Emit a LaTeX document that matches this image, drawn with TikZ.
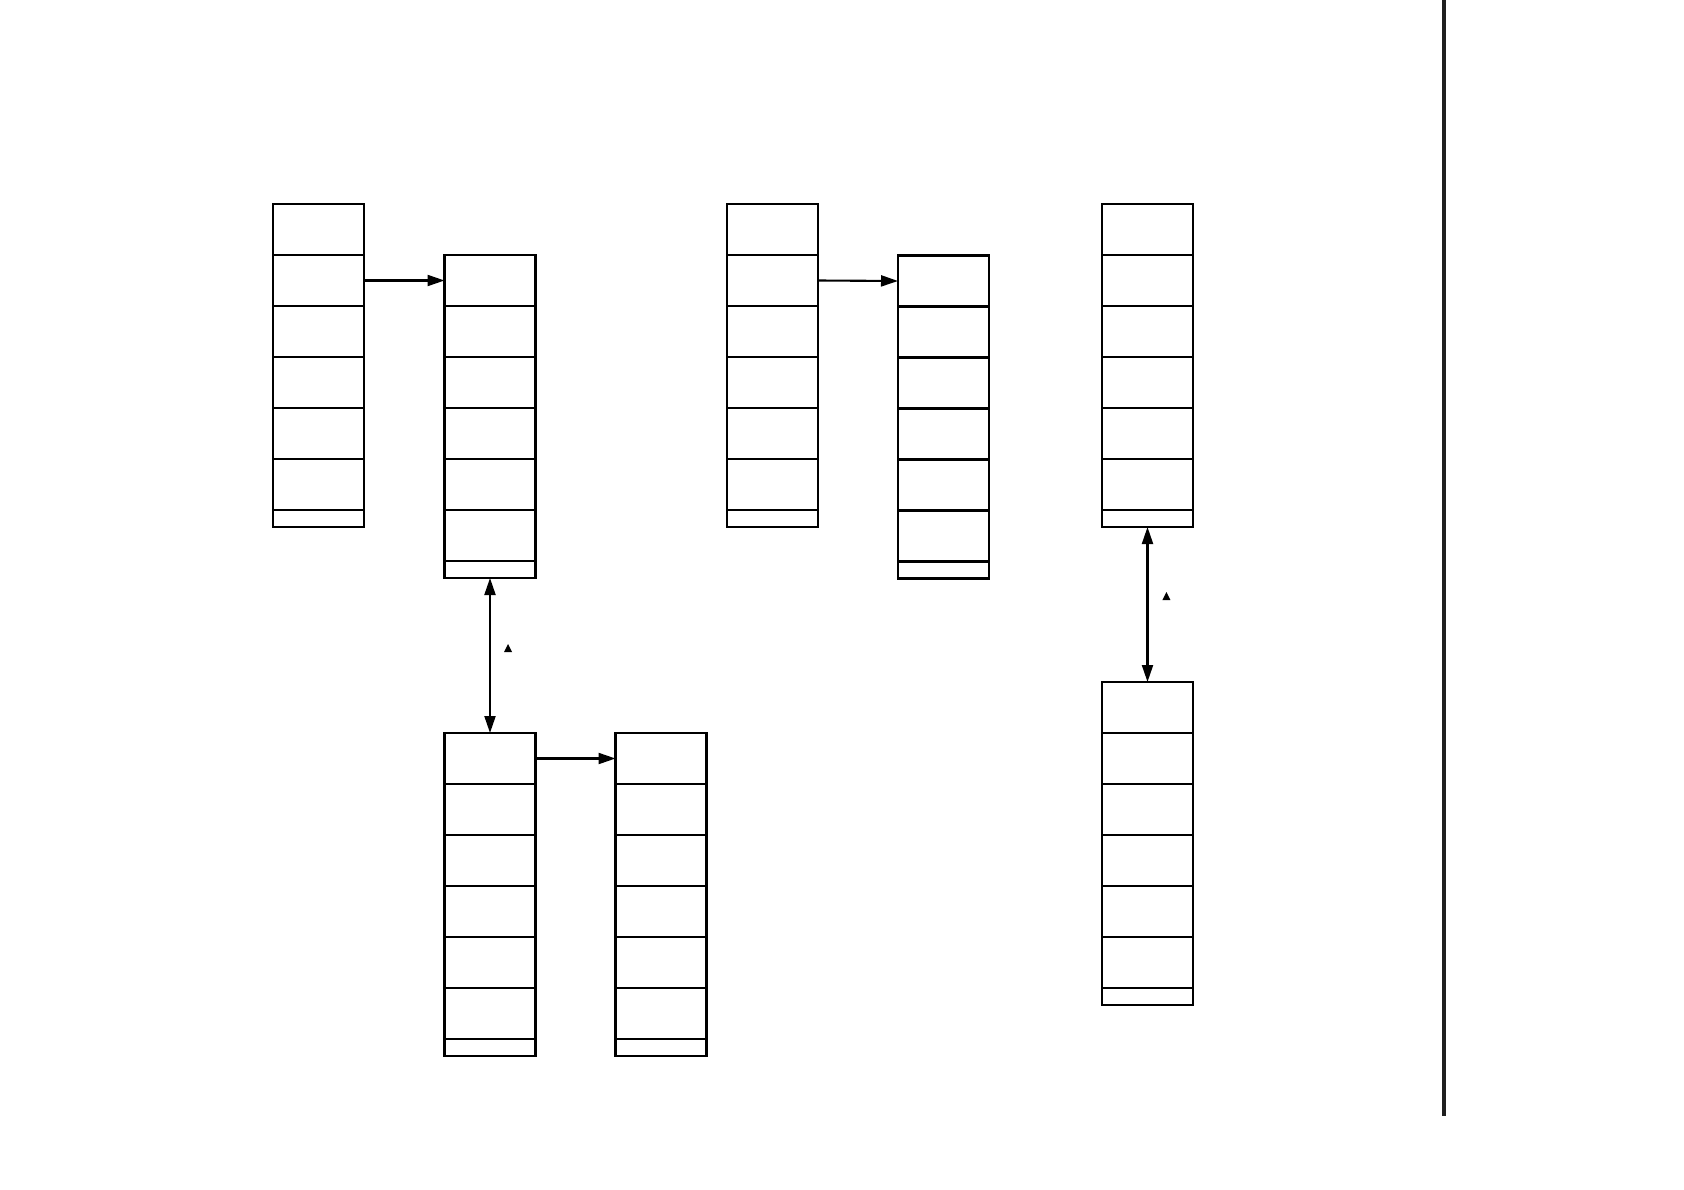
\documentclass[tikz,border=0pt]{standalone}
\usetikzlibrary{arrows.meta}
\tikzset{
  cell/.style={draw=black, line width=2.1pt, minimum width=91pt, minimum height=51pt, inner sep=0pt, outer sep=0pt, anchor=north west},
  tailc/.style={draw=black, line width=2.1pt, minimum width=91pt, minimum height=17pt, inner sep=0pt, outer sep=0pt, anchor=north west},
  link/.style={line width=2.1pt, -{Triangle[length=17pt,width=11pt]}},
  dlink/.style={line width=2.1pt, {Triangle[length=17pt,width=11pt]}-{Triangle[length=17pt,width=11pt]}},
  mark tri/.style={fill=black}
}
\newcommand\mkstack[3]{%
  \foreach \i in {1,...,6}{
    \node[cell] (#1r\i) at (#2, {-#3-(\i-1)*51}) {};
  }
  \node[tailc] (#1t) at (#2, {-#3-306}) {};
}
\begin{document}
\begin{tikzpicture}[x=1pt,y=1pt]
\useasboundingbox (0,0) rectangle (1684,-1190);
\fill[white] (0,0) rectangle (1684,-1190);
\mkstack{sa}{273}{204}
\mkstack{sb}{444.5}{255}
\mkstack{sc}{444.5}{733}
\mkstack{sd}{615.5}{733}
\mkstack{se}{727}{204}
\mkstack{sf}{898}{255.5}
\mkstack{sg}{1102}{204}
\mkstack{sh}{1102}{682}
\draw[link] (sar2.east) -- (sbr1.west);
\draw[link] (ser2.east) -- (sfr1.west);
\draw[link] (scr1.east) -- (sdr1.west);
\draw[dlink] (sbt.south) -- (scr1.north);
\draw[dlink] (sgt.south) -- (shr1.north);
\fill[mark tri] (504,-652) -- (512,-652) -- (508,-644) -- cycle;
\fill[mark tri] (1162.4,-600) -- (1170.4,-600) -- (1166.4,-592) -- cycle;
\draw[line width=4pt, black!88] (1444,0) -- (1444,-1115.5);
\end{tikzpicture}
\end{document}
